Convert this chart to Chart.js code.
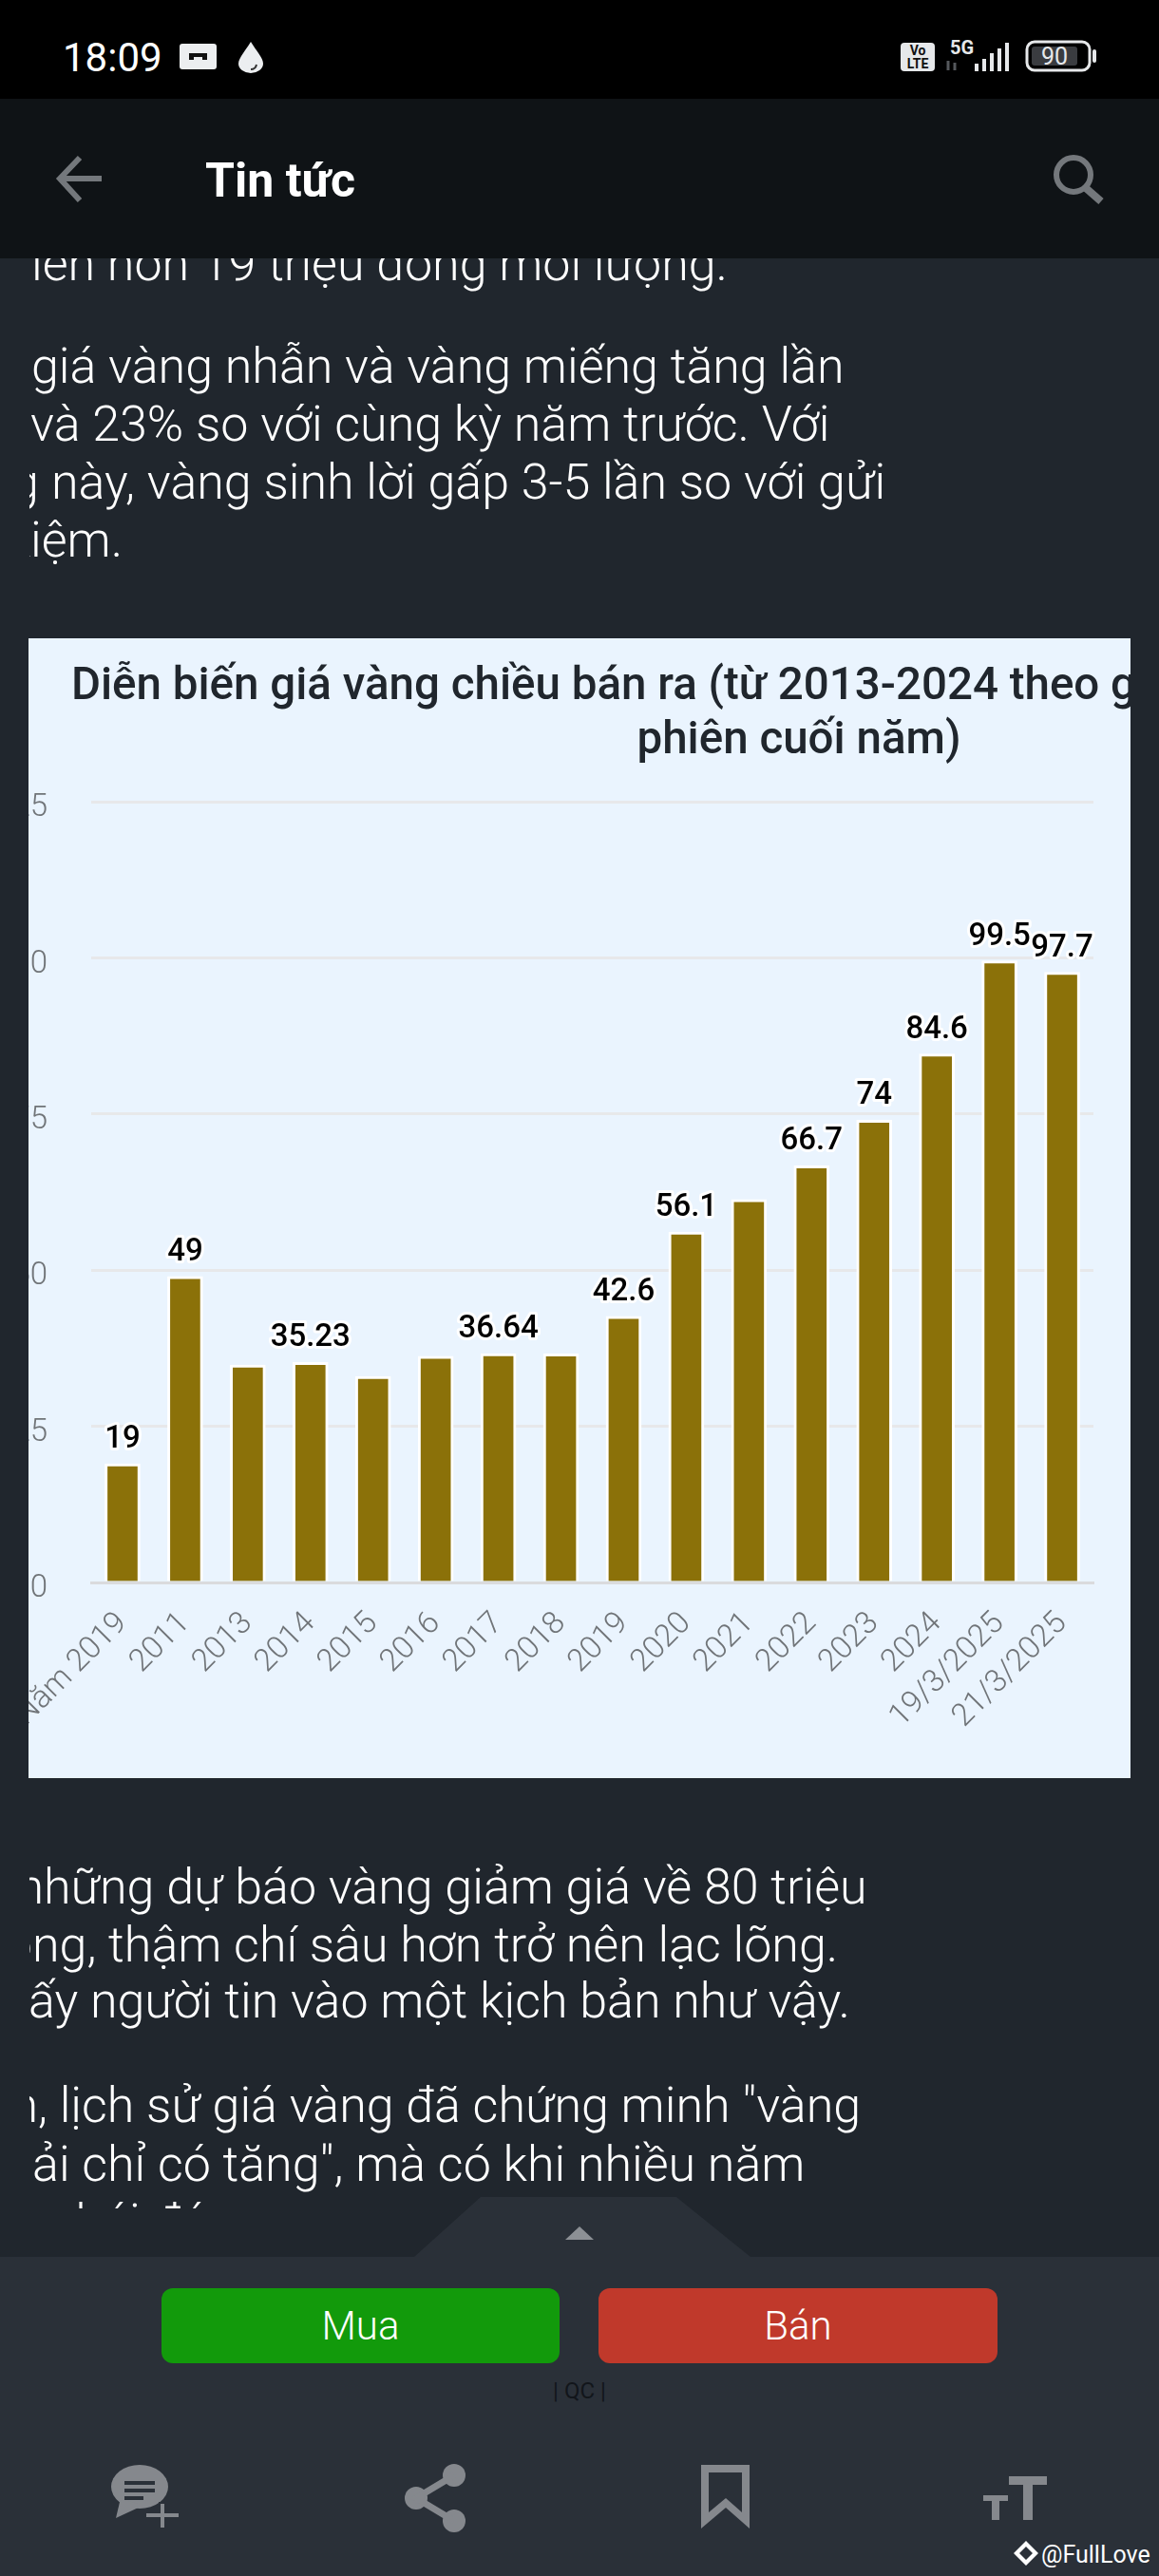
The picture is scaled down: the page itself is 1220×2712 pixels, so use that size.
<!DOCTYPE html>
<html lang="vi">
<head>
<meta charset="utf-8">
<title>Tin tức</title>
<script src="https://cdn.jsdelivr.net/npm/chart.js@4"></script>
<style>
  html, body { margin: 0; padding: 0; background: #20262d; }
  body { position: relative; width: 1220px; height: 2712px; overflow: hidden; font-family: Roboto, sans-serif; color: #fff; }
  .abs { position: absolute; }
  #status { left: 0; top: 0; width: 1220px; height: 104px; background: #000; }
  #header { left: 0; top: 104px; width: 1220px; height: 168px; background: #0f1316; }
  #article { left: 31px; top: 272px; width: 1189px; height: 2053px; overflow: hidden; }
  .ln { position: absolute; white-space: nowrap; font-size: 52px; font-weight: 300; line-height: 61px; color: #fff; }
  .cut { position: absolute; right: 100%; }
  #card { left: 30px; top: 672px; width: 1160px; height: 1200px; overflow: hidden; background: #eaf4fe; }
  #chart { position: absolute; left: -70px; top: 0; }
  #bar { left: 0; top: 2376px; width: 1220px; height: 336px; background: #2a3038; }
  .btn { top: 2409px; height: 79px; border-radius: 12px; font-size: 42px; font-weight: 300; line-height: 79px; text-align: center; color: #fff; }
</style>
</head>
<body>
<div id="article" class="abs">
  <div class="ln" style="left:2px;top:-25px">lên hơn 19 triệu đồng mỗi lượng.</div>
  <div class="ln" style="left:2px;top:83px">giá vàng nhẫn và vàng miếng tăng lần</div>
  <div class="ln" style="left:1px;top:144px">và 23% so với cùng kỳ năm trước. Với</div>
  <div class="ln" style="left:23px;top:205px"><span class="cut" style="right:calc(100% + 13px)">ng</span>này, vàng sinh lời gấp 3-5 lần so với gửi</div>
  <div class="ln" style="left:1px;top:266px"><span class="cut">k</span>iệm.</div>
  <div class="ln" style="left:15px;top:1684px"><span class="cut">n</span>hững dự báo vàng giảm giá về 80 triệu</div>
  <div class="ln" style="left:3px;top:1745px"><span class="cut">đồ</span>ng, thậm chí sâu hơn trở nên lạc lõng.</div>
  <div class="ln" style="left:-1px;top:1804px"><span class="cut">th</span>ấy người tin vào một kịch bản như vậy.</div>
  <div class="ln" style="left:9px;top:1914px"><span class="cut">Trên</span>, lịch sử giá vàng đã chứng minh "vàng</div>
  <div class="ln" style="left:3px;top:1976px"><span class="cut">ph</span>ải chỉ có tăng", mà có khi nhiều năm</div>
  <div class="ln" style="left:20px;top:2037px">nhái đó</div>
</div>

<div id="card" class="abs"><canvas id="chart" width="1230" height="1200"></canvas></div>

<div id="status" class="abs">
  <div class="abs" style="left:66px;top:36px;font-size:42px;line-height:50px;">18:09</div>
  <svg class="abs" style="left:0;top:0" width="1220" height="104">
    <rect x="189" y="46" width="39" height="27" rx="3" fill="#eceef0"/>
    <path d="M199 56h19v7h-5v-3h-9v3h-5z" fill="#111"/>
    <path d="M264 44c6 10 13 17 13 23a13 10 0 0 1-26 0c0-6 7-13 13-23z" fill="#eceef0"/>
    <path d="M270 68a6 6 0 0 1-6 5" fill="none" stroke="#333" stroke-width="2"/>
    <rect x="948" y="45" width="36" height="30" rx="4" fill="#e6e8ea"/>
    <rect x="1026" y="67" width="4" height="8" fill="#e6e8ea"/>
    <rect x="1034" y="62" width="4" height="13" fill="#e6e8ea"/>
    <rect x="1042" y="56" width="4" height="19" fill="#e6e8ea"/>
    <rect x="1050" y="51" width="4" height="24" fill="#e6e8ea"/>
    <rect x="1058" y="45" width="4" height="30" fill="#e6e8ea"/>
    <rect x="1081" y="44" width="66" height="30" rx="8" fill="#000" stroke="#e6e8ea" stroke-width="3"/>
    <rect x="1086" y="49" width="48" height="20" rx="3" fill="#3a3c40"/>
    <rect x="1150" y="52" width="4" height="14" rx="2" fill="#e6e8ea"/>
    <path d="M998 64v10M1005 66v8" stroke="#55585c" stroke-width="3"/>
  </svg>
  <div class="abs" style="left:949px;top:46px;width:34px;font-size:14px;line-height:14px;font-weight:700;color:#111;text-align:center;">Vo<br>LTE</div>
  <div class="abs" style="left:1000px;top:40px;font-size:20px;line-height:20px;font-weight:700;color:#e6e8ea;">5G</div>
  <div class="abs" style="left:1086px;top:46px;width:48px;font-size:25px;line-height:28px;color:#e6e8ea;text-align:center;">90</div>
</div>

<div id="header" class="abs">
  <svg class="abs" style="left:0;top:0" width="1220" height="168" fill="none" stroke="#74787c" stroke-width="6">
    <path d="M107 84H66M84 62L63 84L84 107"/>
    <circle cx="1130" cy="80" r="18"/>
    <path d="M1143 94L1159 108" stroke-width="8"/>
  </svg>
  <div class="abs" style="left:216px;top:56px;font-size:50px;line-height:60px;font-weight:700;">Tin tức</div>
</div>

<svg class="abs" style="left:0;top:2300px" width="1220" height="80">
  <path d="M436 76L506 13H712L790 76Z" fill="#2a3038"/>
  <path d="M595 58L610 44L625 58Z" fill="#8c9095"/>
</svg>
<div id="bar" class="abs"></div>
<div class="abs btn" style="left:170px;width:419px;background:#129a0b;">Mua</div>
<div class="abs btn" style="left:630px;width:420px;background:#c0392b;">Bán</div>
<div class="abs" style="left:560px;top:2504px;width:100px;text-align:center;font-size:24px;line-height:26px;color:#12161b;">| QC |</div>

<svg class="abs" style="left:0;top:2580px" width="1220" height="132" fill="#85888d">
  <ellipse cx="147" cy="38" rx="30" ry="23"/>
  <path d="M127 50L122 71L150 58Z"/>
  <path d="M131 34h32M131 42h32M131 50h20" stroke="#2a3038" stroke-width="4"/>
  <path d="M168 55h6v10h15v6h-15v11h-6v-11h-15v-6h15z" stroke="#2a3038" stroke-width="2"/>
  <circle cx="478" cy="26" r="12"/><circle cx="438" cy="50" r="12"/><circle cx="478" cy="74" r="12"/>
  <path d="M478 26L438 50L478 74" fill="none" stroke="#85888d" stroke-width="7"/>
  <path d="M738 15h51v67l-25-22l-26 22zM746 23v42l18-15l17 15v-42z" fill-rule="evenodd"/>
  <path d="M1062 27h40v9h-15v37h-10v-37h-15zM1035 47h26v6h-9v20h-8v-20h-9z"/>
  <path d="M1080 95l13 13l-13 13l-13-13zM1080 101l-7 7l7 7l7-7z" fill="#fff" fill-rule="evenodd"/>
</svg>
<div class="abs" style="left:1096px;top:2675px;font-size:25px;line-height:30px;font-weight:400;color:#fff;">@FullLove</div>

<script>
// Du lieu doc tu anh
const labels = ['Năm 2019', '2011', '2013', '2014', '2015', '2016', '2017', '2018', '2019', '2020', '2021', '2022', '2023', '2024', '19/3/2025', '21/3/2025'];
const prices = [19, 49, 34.8, 35.23, 33, 36.2, 36.64, 36.6, 42.6, 56.1, 61.3, 66.7, 74, 84.6, 99.5, 97.7];
const barLabels = ['19', '49', '', '35.23', '', '', '36.64', '', '42.6', '56.1', '', '66.7', '74', '84.6', '99.5', '97.7'];
const titleLines = ['Diễn biến giá vàng chiều bán ra (từ 2013-2024 theo giá', 'phiên cuối năm)'];

const TICK_COLOR = '#707478';
const FONT = 'Roboto, sans-serif';

// Tieu de lech tam va bi cat o mep the, nen ve tay
const titlePlugin = {
  id: 'cutTitle',
  afterDraw(chart) {
    const ctx = chart.ctx;
    ctx.save();
    ctx.fillStyle = '#20262d';
    ctx.font = '500 47.5px ' + FONT;
    ctx.textBaseline = 'alphabetic';
    ctx.textAlign = 'left';
    ctx.fillText(titleLines[0], 115, 64);
    ctx.textAlign = 'center';
    ctx.fillText(titleLines[1], 881, 121);
    ctx.restore();
  },
};

// Nhan so tren dau cot, co vien trang
const barLabelPlugin = {
  id: 'barLabels',
  afterDatasetsDraw(chart) {
    const ctx = chart.ctx;
    const bars = chart.getDatasetMeta(0).data;
    ctx.save();
    ctx.font = '500 33px ' + FONT;
    ctx.textAlign = 'center';
    ctx.textBaseline = 'alphabetic';
    ctx.lineJoin = 'round';
    ctx.lineWidth = 6;
    ctx.strokeStyle = '#fff';
    ctx.fillStyle = '#000';
    bars.forEach((bar, i) => {
      if (!barLabels[i]) return;
      ctx.strokeText(barLabels[i], bar.x, bar.y - 17);
      ctx.fillText(barLabels[i], bar.x, bar.y - 17);
    });
    ctx.restore();
  },
};

new Chart(document.getElementById('chart').getContext('2d'), {
  type: 'bar',
  data: {
    labels: labels,
    datasets: [
      {
        data: prices,
        backgroundColor: '#8b7109',
        borderColor: '#ffffff',
        borderWidth: 3,
        borderSkipped: 'bottom',
        barThickness: 37,
      },
    ],
  },
  plugins: [titlePlugin, barLabelPlugin],
  options: {
    responsive: false,
    animation: false,
    devicePixelRatio: 1,
    layout: { autoPadding: false, padding: { top: 172, right: 39 } },
    plugins: { legend: { display: false }, tooltip: { enabled: false } },
    scales: {
      x: {
        grid: { display: false },
        border: { color: '#dadbdd', width: 3 },
        ticks: {
          color: TICK_COLOR,
          font: { family: FONT, size: 33, weight: '300' },
          minRotation: 45,
          maxRotation: 45,
          autoSkip: false,
          padding: 16,
        },
        afterFit: (scale) => { scale.height = 206; },
      },
      y: {
        min: 0,
        max: 125,
        grid: { color: '#e7e8ea', lineWidth: 3, drawTicks: false },
        border: { display: false },
        ticks: {
          stepSize: 25,
          color: TICK_COLOR,
          font: { family: FONT, size: 33, weight: '300' },
          padding: 46,
          labelOffset: 7,
        },
        afterFit: (scale) => { scale.width = 136; },
      },
    },
  },
});
</script>
</body>
</html>
